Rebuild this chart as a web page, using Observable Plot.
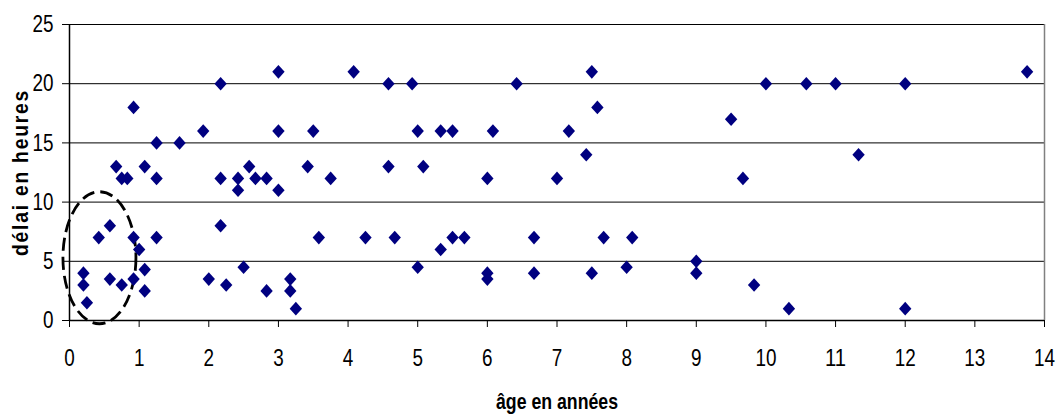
<!DOCTYPE html>
<html><head><meta charset="utf-8">
<script src="https://cdn.jsdelivr.net/npm/d3@7"></script>
<script src="https://cdn.jsdelivr.net/npm/@observablehq/plot@0.6"></script>
<style>body{margin:0;background:#fff}</style>
</head><body><div id="chart"></div>
<script>
// âge en années
const ages = [0.2,0.2,0.25,0.42,0.58,0.58,0.75,0.67,0.75,0.83,0.92,0.92,0.92,1.0,1.08,1.08,1.08,1.25,1.25,1.25,1.58,1.92,2.0,2.17,2.17,2.17,2.25,2.42,2.42,2.5,2.58,2.67,2.83,2.83,3,3,3,3.17,3.17,3.25,3.42,3.5,3.58,3.75,4.08,4.25,4.58,4.58,4.67,4.92,5,5,5.08,5.33,5.33,5.5,5.5,5.67,6,6,6,6.08,6.42,6.67,6.67,7,7.17,7.42,7.5,7.5,7.58,7.67,8,8.08,9,9,9.5,9.67,9.83,10,10.33,10.58,11,11.33,12,12,13.75];
// délai en heures
const delays = [4,3,1.5,7,8,3.5,3,13,12,12,18,7,3.5,6,13,4.3,2.5,15,12,7,15,16,3.5,20,12,8,3,12,11,4.5,13,12,12,2.5,21,16,11,3.5,2.5,1,13,16,7,12,21,7,20,13,7,20,16,4.5,13,16,6,16,7,7,12,4,3.5,16,20,7,4,12,16,14,21,4,18,7,4.5,7,5,4,17,12,3,20,1,20,20,14,20,1,21];
const xTicks = [0,1,2,3,4,5,6,7,8,9,10,11,12,13,14];
const yTicks = [0,5,10,15,20,25];
const xLabel = "âge en années";
const yLabel = "délai en heures";
// dashed ellipse annotation centre
const circleX = [0.43];
const circleY = [5.3];

const points = ages.map((a, i) => ({age: a, delay: delays[i]}));
const circle = circleX.map((x, i) => ({x, y: circleY[i]}));

const diamond = {draw(ctx, size) {
  const r = Math.sqrt(size / Math.PI), w = r * 0.95, h = r * 1.05;
  ctx.moveTo(0, -h); ctx.lineTo(w, 0); ctx.lineTo(0, h); ctx.lineTo(-w, 0); ctx.closePath();
}};
const ellipse = {draw(ctx) {
  const rx = 36.5, ry = 66, k = 0.5523;
  ctx.moveTo(rx, 0);
  ctx.bezierCurveTo(rx, k * ry, k * rx, ry, 0, ry);
  ctx.bezierCurveTo(-k * rx, ry, -rx, k * ry, -rx, 0);
  ctx.bezierCurveTo(-rx, -k * ry, -k * rx, -ry, 0, -ry);
  ctx.bezierCurveTo(k * rx, -ry, rx, -k * ry, rx, 0);
  ctx.closePath();
}};

const font = "'Liberation Sans', Arial, sans-serif";
const chart = Plot.plot({
  width: 1058, height: 414,
  marginLeft: 69, marginRight: 14, marginTop: 24, marginBottom: 94,
  style: {fontFamily: font, fontSize: "24px", color: "#000", background: "#fff"},
  x: {domain: [0, 14]},
  y: {domain: [0, 25]},
  marks: [
    Plot.ruleY(yTicks.slice(1), {stroke: "#000", strokeWidth: 1}),
    Plot.ruleX([14], {stroke: "#808080", strokeWidth: 1.5}),
    Plot.ruleX([0], {stroke: "#000", strokeWidth: 1.5}),
    Plot.ruleY([0], {stroke: "#000", strokeWidth: 1.5}),
    Plot.axisY({ticks: yTicks, tickSize: 7, tickPadding: 9, label: null, tickFormat: d => String(d)}),
    Plot.axisX({ticks: xTicks, tickSize: 7, tickPadding: 21, label: null, tickFormat: d => String(d)}),
    Plot.dot(circle, {x: "x", y: "y", symbol: ellipse, r: 10, fill: "none", stroke: "#000", strokeWidth: 2.8, strokeDasharray: "13,6"}),
    Plot.dot(points, {x: "age", y: "delay", symbol: diamond, r: 6.5, fill: "#000080", stroke: "none"}),
    Plot.text([yLabel], {frameAnchor: "left", textAnchor: "middle", lineAnchor: "middle", dx: -49, rotate: -90, fontWeight: "bold", fontSize: 22}),
    Plot.text([xLabel], {frameAnchor: "bottom", textAnchor: "middle", lineAnchor: "bottom", dy: 88, fontWeight: "bold", fontSize: 22})
  ]
});
chart.querySelectorAll("text").forEach(t => {
  const s = t.textContent;
  if (/^\d+$/.test(s)) {
    t.setAttribute("textLength", String(10.5 * s.length));
    t.setAttribute("lengthAdjust", "spacingAndGlyphs");
  } else if (s === yLabel) {
    t.setAttribute("letter-spacing", "2px");
    t.setAttribute("textLength", "167");
    t.setAttribute("lengthAdjust", "spacingAndGlyphs");
  } else if (s === xLabel) {
    t.setAttribute("textLength", "122");
    t.setAttribute("lengthAdjust", "spacingAndGlyphs");
  }
});
document.getElementById("chart").appendChild(chart);
</script>
</body></html>
